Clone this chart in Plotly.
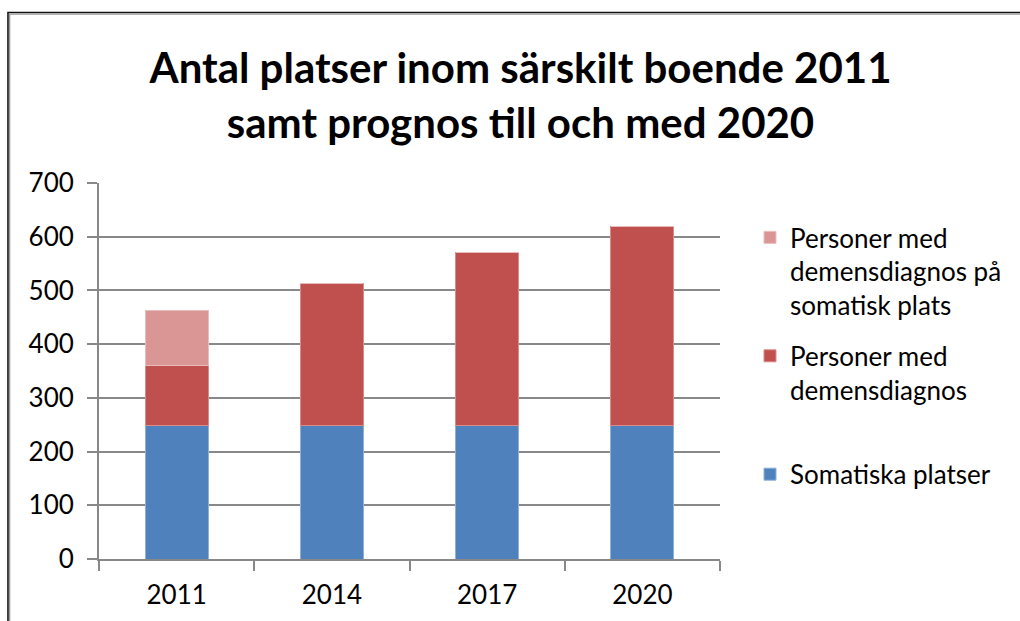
import plotly.graph_objects as go

years = ["2011", "2014", "2017", "2020"]
somatiska = [249, 249, 249, 249]
demens = [112, 263, 321, 370]
demens_somatisk = [101, 0, 0, 0]

names = ["Somatiska platser", "Personer med<br>demensdiagnos<br> ",
         "Personer med<br>demensdiagnos på<br>somatisk plats"]
colors = ["#4F81BD", "#C0504D", "#D99694"]
edge = ["#8FB0DA", "#D98C8A", "#E8BDBC"]
ranks = [3, 2, 1]

W, H = 1020, 621
L, R, T, B = 99, 720, 183, 559

fig = go.Figure()
for i, (vals, nm) in enumerate(zip([somatiska, demens, demens_somatisk], names)):
    fig.add_trace(go.Bar(
        x=years, y=vals, name=nm, legendgroup=str(i), legendrank=ranks[i],
        marker=dict(color=colors[i], line=dict(color=edge[i], width=1)),
        width=0.405,
    ))

font = "Lato, Carlito, Calibri, sans-serif"
fig.update_layout(
    width=W, height=H,
    barmode="stack",
    paper_bgcolor="white", plot_bgcolor="white",
    margin=dict(l=L, r=W - R, t=T, b=H - B, pad=0),
    font=dict(family=font, size=26, color="black"),
    title=dict(text="<b>Antal platser inom särskilt boende 2011<br>samt prognos till och med 2020</b>",
               x=(148 + 893) / 2 / W, xanchor="center", y=1 - 83 / H, yanchor="top",
               font=dict(family=font, size=42, color="black")),
    legend=dict(x=(750 - L) / (R - L), xanchor="left", y=(B - 214) / (B - T), yanchor="top",
                traceorder="grouped", tracegroupgap=14, valign="top",
                font=dict(family=font, size=26), itemwidth=30, bgcolor="rgba(0,0,0,0)"),
    showlegend=True,
)
fig.update_yaxes(range=[0, 700], dtick=100, showgrid=True, gridcolor="#888888", gridwidth=2,
                 showline=True, linecolor="#888888", linewidth=2, ticks="outside", ticklen=10,
                 tickcolor="#888888", tickwidth=2, zeroline=False, ticklabelstandoff=8,
                 tickfont=dict(size=26))
fig.update_xaxes(showline=True, linecolor="#888888", linewidth=2, ticks="outside", ticklen=10,
                 tickcolor="#888888", tickwidth=2, tickson="boundaries", ticklabelstandoff=12,
                 tickfont=dict(size=26))

def px_x(p):
    return (p - L) / (R - L)

def px_y(p):
    return (B - p) / (B - T)

# outer chart frame (cropped at right/bottom in the reference)
fig.add_shape(type="rect", xref="paper", yref="paper",
              x0=px_x(8), x1=px_x(1060), y0=px_y(680), y1=px_y(12.5),
              line=dict(color="#111111", width=1.6), fillcolor="rgba(0,0,0,0)", layer="below")
fig.add_shape(type="rect", xref="paper", yref="paper",
              x0=px_x(9.6), x1=px_x(1060), y0=px_y(680), y1=px_y(14.1),
              line=dict(color="#999999", width=1.4), fillcolor="rgba(0,0,0,0)", layer="below")

fig.write_html("out.html", config={"displayModeBar": False},
               post_script="document.body.style.margin='0';document.body.style.padding='0';document.body.style.overflow='hidden';")
